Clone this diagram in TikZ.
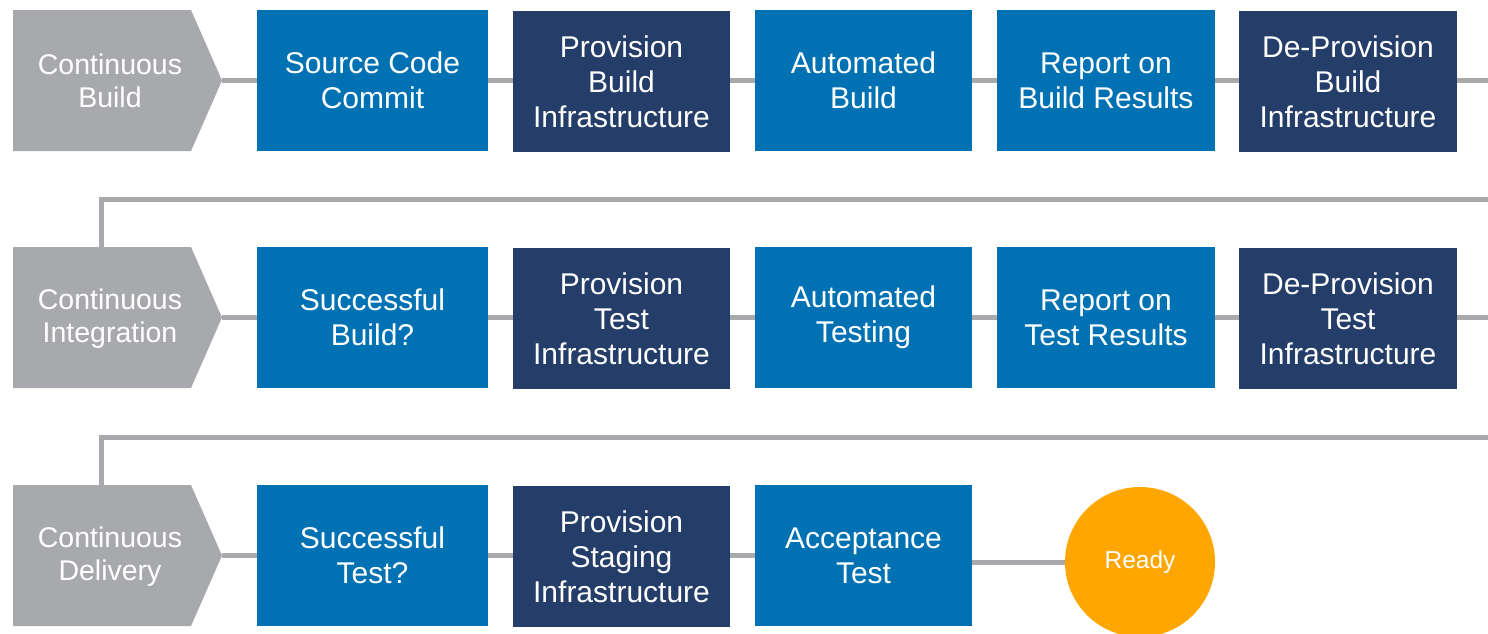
\documentclass[tikz,border=0pt]{standalone}
\usepackage{fontspec}
\setmainfont{Liberation Sans}
\definecolor{lgray}{HTML}{A7A9AC}
\definecolor{cblue}{HTML}{0071B3}
\definecolor{cnavy}{HTML}{243E69}
\definecolor{corange}{HTML}{FFA600}
\begin{document}
\begin{tikzpicture}[x=1pt,y=-1pt,
  blk/.style={rectangle, minimum height=141pt, text=white, align=center, inner sep=0pt,
    font=\fontsize{30}{35}\selectfont},
  lt/.style={blk, fill=cblue},
  dk/.style={blk, fill=cnavy},
  phase/.style={text=white, align=center, font=\fontsize{28.5}{33}\selectfont},
  conn/.style={draw=lgray, line width=5pt}]
\clip (0,0) rectangle (1488,633);
\fill[white] (0,0) rectangle (1488,633);

% ---------- phase shapes ----------
\foreach \t/\c in {10/80.5, 247/317.5, 485/555.5}{
  \pgfmathsetmacro{\b}{\t+141}
  \fill[lgray] (13,\t) -- (191,\t) -- (222,\c) -- (191,\b) -- (13,\b) -- cycle;
}
\node[phase] (p1) at (110,81) {Continuous\\Build};
\node[phase] (p2) at (110,319) {Continuous\\Integration};
\node[phase] (p3) at (110,557) {Continuous\\Delivery};
\coordinate (p1tip) at (222,80.5);
\coordinate (p2tip) at (222,317.5);
\coordinate (p3tip) at (222,555.5);
\coordinate (p2top) at (101,247);
\coordinate (p3top) at (101,485);

% ---------- row 1 ----------
\node[lt, minimum width=231pt] (a1) at (372.5,80.5) {Source Code\\Commit};
\node[dk, minimum width=217pt] (a2) at (621.5,81.5) {Provision\\Build\\Infrastructure};
\node[lt, minimum width=217pt] (a3) at (863.5,80.5) {Automated\\Build};
\node[lt, minimum width=218pt] (a4) at (1106,80.5) {Report on\\Build Results};
\node[dk, minimum width=218pt] (a5) at (1348,81.5) {De-Provision\\Build\\Infrastructure};
\coordinate (a6) at (1490,80.5);

% ---------- row 2 ----------
\node[lt, minimum width=231pt] (b1) at (372.5,317.5) {Successful\\Build?};
\node[dk, minimum width=217pt] (b2) at (621.5,318.5) {Provision\\Test\\Infrastructure};
\node[lt, minimum width=217pt] (b3) at (863.5,317.5) {Automated\\Testing};
\node[lt, minimum width=218pt] (b4) at (1106,317.5) {Report on\\Test Results};
\node[dk, minimum width=218pt] (b5) at (1348,318.5) {De-Provision\\Test\\Infrastructure};
\coordinate (b6) at (1490,317.5);

% ---------- row 3 ----------
\node[lt, minimum width=231pt] (c1) at (372.5,555.5) {Successful\\Test?};
\node[dk, minimum width=217pt] (c2) at (621.5,556.5) {Provision\\Staging\\Infrastructure};
\node[lt, minimum width=217pt] (c3) at (863.5,555.5) {Acceptance\\Test};
\node[circle, fill=corange, minimum size=150pt, inner sep=0pt, text=white,
  font=\fontsize{24.5}{28}\selectfont] (rdy) at (1140,562) {Ready};

% ---------- connectors ----------
\draw[conn] (p1tip) -- (a1.west);
\draw[conn] (a1.east) -- (a2.west |- a1.east);
\draw[conn] (a2.east |- a3.west) -- (a3.west);
\draw[conn] (a3.east) -- (a4.west);
\draw[conn] (a4.east) -- (a5.west |- a4.east);
\draw[conn] (a5.east |- a6) -- (a6);

\coordinate (r2r) at (1490,199);
\draw[conn] (r2r) -- (p2top |- r2r) -- (p2top);

\draw[conn] (p2tip) -- (b1.west);
\draw[conn] (b1.east) -- (b2.west |- b1.east);
\draw[conn] (b2.east |- b3.west) -- (b3.west);
\draw[conn] (b3.east) -- (b4.west);
\draw[conn] (b4.east) -- (b5.west |- b4.east);
\draw[conn] (b5.east |- b6) -- (b6);

\coordinate (r3r) at (1490,437);
\draw[conn] (r3r) -- (p3top |- r3r) -- (p3top);

\draw[conn] (p3tip) -- (c1.west);
\draw[conn] (c1.east) -- (c2.west |- c1.east);
\draw[conn] (c2.east |- c3.west) -- (c3.west);
\draw[conn] (c3.east |- rdy.west) -- (rdy.west);
\end{tikzpicture}
\end{document}
